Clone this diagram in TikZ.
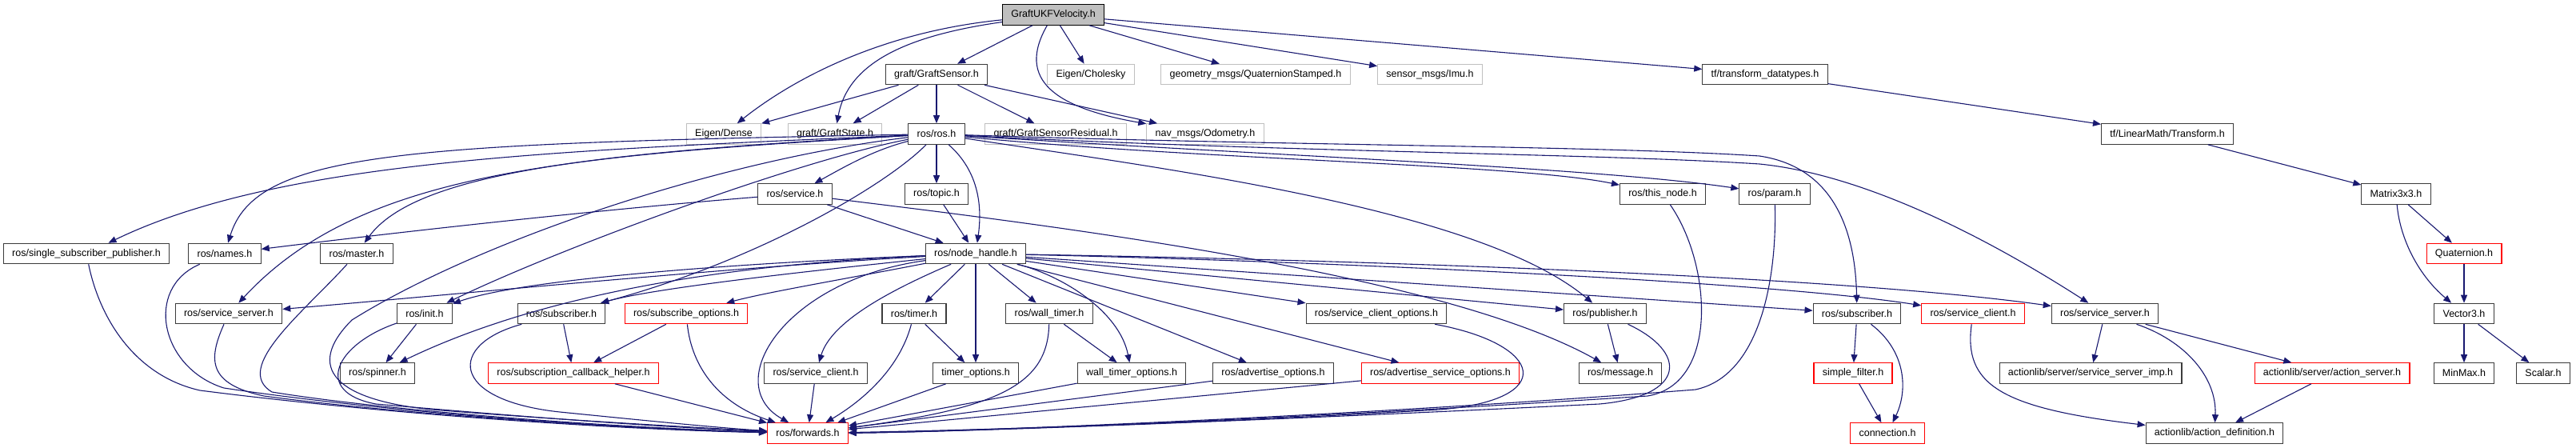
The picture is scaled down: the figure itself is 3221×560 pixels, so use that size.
\documentclass[tikz,border=0pt]{standalone}
\usepackage{fontspec}
\setmainfont{Liberation Sans}
\usetikzlibrary{arrows.meta}
\definecolor{edgeblue}{RGB}{25,25,112}
\definecolor{grayb}{RGB}{191,191,191}
\definecolor{boxb}{RGB}{60,60,60}
\definecolor{redb}{RGB}{255,0,0}
\begin{document}
\begin{tikzpicture}[x=1bp,y=-1bp,
  nd/.style={draw=boxb, line width=1.1bp, inner xsep=10.8bp, inner ysep=0pt, minimum height=25.5bp, font=\fontsize{12.5bp}{15bp}\selectfont, text=black},
  sys/.style={nd, draw=grayb},
  trunc/.style={nd, draw=redb},
  rootnd/.style={nd, draw=black, fill=grayb},
  dep/.style={draw=edgeblue, line width=1.1bp, -{Triangle[length=10bp,width=8bp]}}]
\useasboundingbox (0,0) rectangle (3221,560);
% row 0
\node[rootnd] (root) at (1317,18.5) {GraftUKFVelocity.h};
% row 1
\node[nd] (gsensor) at (1171,93) {graft/GraftSensor.h};
\node[sys] (chol) at (1364,93) {Eigen/Cholesky};
\node[sys] (qstamp) at (1570,93) {geometry\_msgs/QuaternionStamped.h};
\node[sys] (imu) at (1788,93) {sensor\_msgs/Imu.h};
\node[nd] (tfdt) at (2207,93) {tf/transform\_datatypes.h};
% row 2
\node[sys] (dense) at (905,167.5) {Eigen/Dense};
\node[sys] (gstate) at (1044,167.5) {graft/GraftState.h};
\node[nd] (ros) at (1171,167.5) {ros/ros.h};
\node[sys] (gres) at (1320,167.5) {graft/GraftSensorResidual.h};
\node[sys] (odom) at (1507,167.5) {nav\_msgs/Odometry.h};
\node[nd] (tftr) at (2710,167.5) {tf/LinearMath/Transform.h};
% row 3
\node[nd] (service) at (994,242.5) {ros/service.h};
\node[nd] (topic) at (1171,242.5) {ros/topic.h};
\node[nd] (thisnode) at (2079,242.5) {ros/this\_node.h};
\node[nd] (param) at (2219,242.5) {ros/param.h};
\node[nd] (mat) at (2996,242.5) {Matrix3x3.h};
% row 4
\node[nd] (ssp) at (108,317) {ros/single\_subscriber\_publisher.h};
\node[nd] (names) at (281,317) {ros/names.h};
\node[nd] (master) at (446,317) {ros/master.h};
\node[nd] (nh) at (1220,317) {ros/node\_handle.h};
\node[trunc] (quat) at (3081,317) {Quaternion.h};
% row 5
\node[nd] (ssrvA) at (286,392) {ros/service\_server.h};
\node[nd] (init) at (531,392) {ros/init.h};
\node[nd] (subA) at (702,392) {ros/subscriber.h};
\node[trunc] (subopt) at (858,392) {ros/subscribe\_options.h};
\node[nd] (timer) at (1143,392) {ros/timer.h};
\node[nd] (wtimer) at (1312,392) {ros/wall\_timer.h};
\node[nd] (sco) at (1721,392) {ros/service\_client\_options.h};
\node[nd] (pub) at (2007,392) {ros/publisher.h};
\node[nd] (subB) at (2322,392) {ros/subscriber.h};
\node[trunc] (sclB) at (2467,392) {ros/service\_client.h};
\node[nd] (ssrvB) at (2632,392) {ros/service\_server.h};
\node[nd] (vec) at (3081,392) {Vector3.h};
% row 6
\node[nd] (spinner) at (472,466.5) {ros/spinner.h};
\node[trunc] (sch) at (717,466.5) {ros/subscription\_callback\_helper.h};
\node[nd] (sclA) at (1020,466.5) {ros/service\_client.h};
\node[nd] (topt) at (1220,466.5) {timer\_options.h};
\node[nd] (wtopt) at (1415,466.5) {wall\_timer\_options.h};
\node[nd] (advopt) at (1592,466.5) {ros/advertise\_options.h};
\node[trunc] (asopt) at (1801,466.5) {ros/advertise\_service\_options.h};
\node[nd] (msg) at (2026,466.5) {ros/message.h};
\node[trunc] (sfilt) at (2317,466.5) {simple\_filter.h};
\node[nd] (ssimp) at (2614,466.5) {actionlib/server/service\_server\_imp.h};
\node[trunc] (aserv) at (2916,466.5) {actionlib/server/action\_server.h};
\node[nd] (minmax) at (3081,466.5) {MinMax.h};
\node[nd] (scalar) at (3180,466.5) {Scalar.h};
% row 7
\node[trunc] (fwd) at (1010,541.5) {ros/forwards.h};
\node[trunc] (conn) at (2360,541.5) {connection.h};
\node[nd] (adef) at (2769,541.5) {actionlib/action\_definition.h};

% root
\draw[dep] (root) .. controls (1100,40) and (990,100) .. (dense);
\draw[dep] (root) .. controls (1130,45) and (1060,80) .. (gstate);
\draw[dep] (root) -- (gsensor);
\draw[dep] (root) -- (chol);
\draw[dep] (root) -- (qstamp);
\draw[dep] (root) -- (imu);
\draw[dep] (root) -- (tfdt);
\draw[dep] (root) .. controls (1270,100) and (1320,135) .. (odom);
% GraftSensor
\draw[dep] (gsensor) -- (dense);
\draw[dep] (gsensor) -- (gstate);
\draw[dep] (gsensor) -- (ros);
\draw[dep] (gsensor) -- (gres);
\draw[dep] (gsensor) -- (odom);
% tf chain
\draw[dep] (tfdt) -- (tftr);
\draw[dep] (tftr) -- (mat);
\draw[dep] (mat) -- (quat);
\draw[dep] (mat) .. controls (3001,300) and (3025,345) .. (vec);
\draw[dep] (quat) -- (vec);
\draw[dep] (vec) -- (minmax);
\draw[dep] (vec) -- (scalar);
% ros.h
\draw[dep] (ros) -- (topic);
\draw[dep] (ros) .. controls (1225,215) and (1228,260) .. (nh);
\draw[dep] (ros) .. controls (1090,188) and (1050,212) .. (service);
\draw[dep] (ros) .. controls (700,188) and (350,200) .. (ssp);
\draw[dep] (ros) .. controls (500,180) and (320,190) .. (names);
\draw[dep] (ros) .. controls (750,190) and (520,215) .. (master);
\draw[dep] (ros) .. controls (700,195) and (450,215) .. (ssrvA);
\draw[dep] (ros) .. controls (1000,200) and (700,310) .. (init);
\draw[dep] (ros) .. controls (1110,230) and (950,325) .. (subA);
\draw[dep] (ros) .. controls (1450,210) and (1850,260) .. (pub);
\draw[dep] (ros) .. controls (1500,200) and (1900,205) .. (thisnode);
\draw[dep] (ros) .. controls (1600,195) and (2000,210) .. (param);
\draw[dep] (ros) .. controls (1600,182) and (2000,182) .. (2200,195) .. controls (2300,210) and (2320,300) .. (subB);
\draw[dep] (ros) .. controls (1600,190) and (2000,192) .. (2200,205) .. controls (2350,220) and (2520,320) .. (ssrvB);
\draw[dep] (ros) .. controls (900,200) and (600,300) .. (440,400) .. controls (380,460) and (420,500) .. (540,512) .. controls (700,525) and (880,535) .. (fwd);
% service.h, topic.h
\draw[dep] (service) -- (nh);
\draw[dep] (service) .. controls (750,262) and (500,290) .. (names);
\draw[dep] (service) .. controls (1300,280) and (1800,340) .. (msg);
\draw[dep] (topic) -- (nh);
% node_handle.h
\draw[dep] (nh) .. controls (900,330) and (650,350) .. (init);
\draw[dep] (nh) .. controls (900,335) and (550,370) .. (ssrvA);
\draw[dep] (nh) .. controls (1000,340) and (820,360) .. (subA);
\draw[dep] (nh) .. controls (1050,350) and (960,365) .. (subopt);
\draw[dep] (nh) .. controls (800,335) and (610,400) .. (spinner);
\draw[dep] (nh) .. controls (980,350) and (900,480) .. (fwd);
\draw[dep] (nh) .. controls (1120,360) and (1040,400) .. (sclA);
\draw[dep] (nh) -- (timer);
\draw[dep] (nh) -- (topt);
\draw[dep] (nh) -- (wtimer);
\draw[dep] (nh) .. controls (1330,345) and (1400,390) .. (wtopt);
\draw[dep] (nh) -- (advopt);
\draw[dep] (nh) -- (asopt);
\draw[dep] (nh) -- (sco);
\draw[dep] (nh) -- (pub);
\draw[dep] (nh) -- (subB);
\draw[dep] (nh) .. controls (1600,325) and (2200,350) .. (sclB);
\draw[dep] (nh) .. controls (1700,325) and (2300,345) .. (ssrvB);
% into forwards and others (left part)
\draw[dep] (init) -- (spinner);
\draw[dep] (init) .. controls (420,430) and (390,490) .. (470,505) .. controls (700,525) and (850,535) .. (fwd);
\draw[dep] (ssp) .. controls (125,400) and (170,470) .. (250,488) .. controls (500,520) and (800,538) .. (fwd);
\draw[dep] (names) .. controls (180,360) and (200,460) .. (280,485) .. controls (500,518) and (800,537) .. (fwd);
\draw[dep] (master) .. controls (380,390) and (290,460) .. (340,490) .. controls (500,516) and (800,536) .. (fwd);
\draw[dep] (ssrvA) .. controls (260,450) and (260,480) .. (330,495) .. controls (500,518) and (800,537) .. (fwd);
\draw[dep] (subA) .. controls (560,430) and (560,500) .. (700,515) .. controls (800,525) and (900,535) .. (fwd);
\draw[dep] (subA) -- (sch);
\draw[dep] (subopt) -- (sch);
\draw[dep] (subopt) .. controls (865,460) and (900,505) .. (fwd);
\draw[dep] (sch) -- (fwd);
\draw[dep] (sclA) -- (fwd);
\draw[dep] (timer) -- (topt);
\draw[dep] (timer) .. controls (1125,460) and (1080,500) .. (fwd);
\draw[dep] (topt) -- (fwd);
\draw[dep] (wtimer) -- (wtopt);
\draw[dep] (wtimer) .. controls (1310,480) and (1250,510) .. (fwd);
\draw[dep] (wtopt) -- (fwd);
\draw[dep] (advopt) -- (fwd);
\draw[dep] (asopt) -- (fwd);
\draw[dep] (sco) .. controls (1930,430) and (1950,500) .. (1800,512) .. controls (1500,530) and (1200,538) .. (fwd);
\draw[dep] (pub) -- (msg);
\draw[dep] (pub) .. controls (2110,440) and (2110,495) .. (2000,505) .. controls (1600,525) and (1200,540) .. (fwd);
\draw[dep] (thisnode) .. controls (2140,330) and (2150,480) .. (2060,495) .. controls (1600,525) and (1200,540) .. (fwd);
\draw[dep] (param) .. controls (2222,350) and (2200,470) .. (2120,487) .. controls (1700,520) and (1200,540) .. (fwd);
% right part
\draw[dep] (subB) -- (sfilt);
\draw[dep] (subB) .. controls (2385,440) and (2385,490) .. (conn);
\draw[dep] (sfilt) -- (conn);
\draw[dep] (sclB) .. controls (2455,480) and (2500,510) .. (adef);
\draw[dep] (ssrvB) -- (ssimp);
\draw[dep] (ssrvB) -- (aserv);
\draw[dep] (ssrvB) .. controls (2730,425) and (2772,470) .. (adef);
\draw[dep] (aserv) -- (adef);
\end{tikzpicture}
\end{document}
